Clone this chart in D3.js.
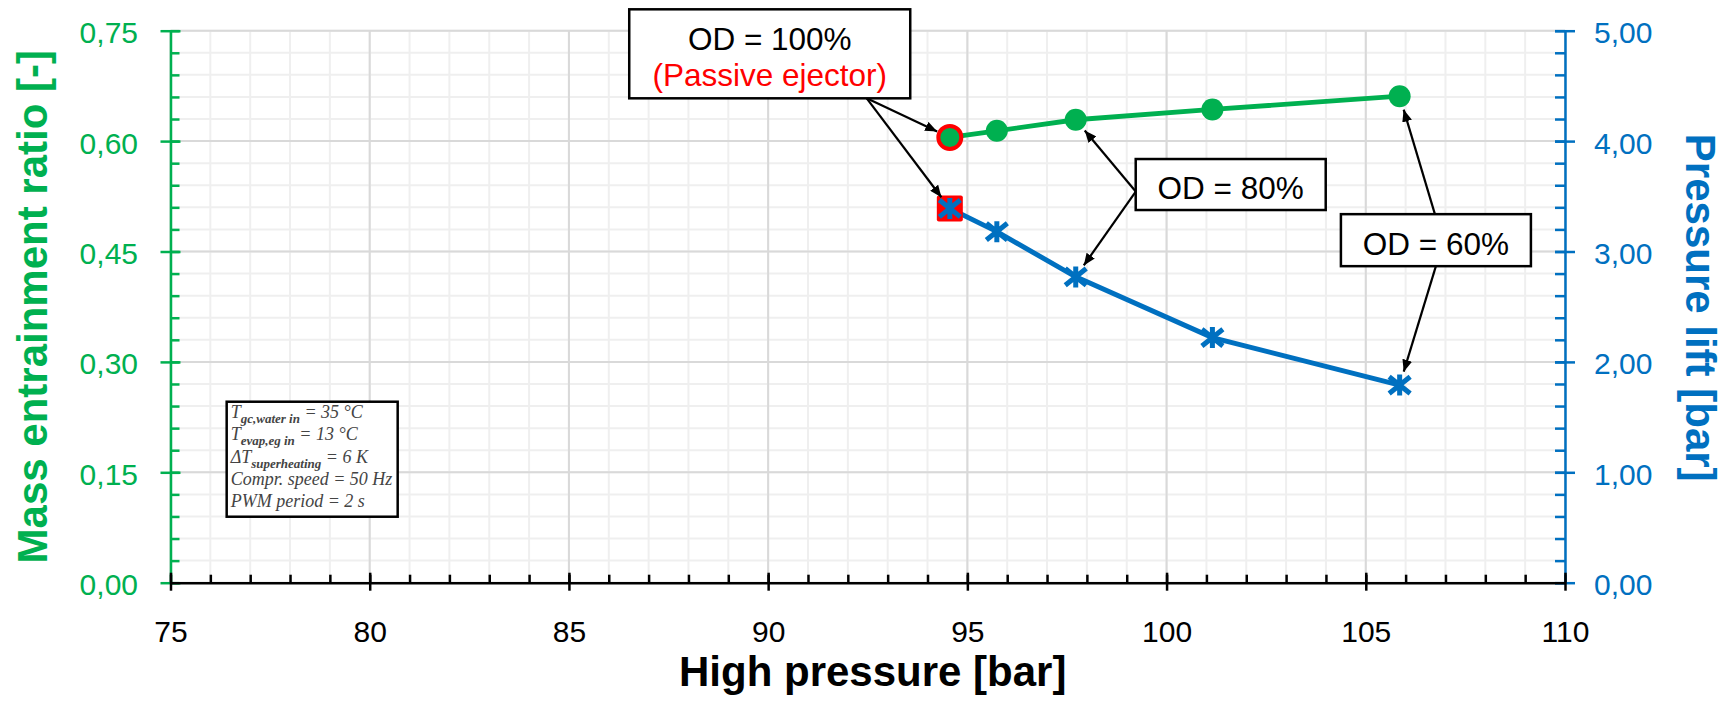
<!DOCTYPE html>
<html>
<head>
<meta charset="utf-8">
<script src="https://cdn.jsdelivr.net/npm/d3@7"></script>
<style>
  body { margin: 0; background: #fff; }
  svg { display: block; font-family: "Liberation Sans", Arial, sans-serif; }
</style>
</head>
<body>
<div id="chart"></div>
<script>
// values
var highPressure = [94.56, 95.74, 97.72, 101.15, 105.85];
var entrainmentRatio = [0.605, 0.614, 0.629, 0.643, 0.661];
var pressureLift = [3.39, 3.18, 2.77, 2.22, 1.79];

var xTicks = [75, 80, 85, 90, 95, 100, 105, 110];
var leftTicks = [0, 0.15, 0.30, 0.45, 0.60, 0.75];
var rightTicks = [0, 1, 2, 3, 4, 5];

// test conditions box: [main, subscript, rest]
var conditions = [
    ["T", "gc,water in", " = 35 °C"],
    ["T", "evap,eg in", " = 13 °C"],
    ["ΔT", "superheating", " = 6 K"],
    ["Compr. speed = 50 Hz", "", ""],
    ["PWM period = 2 s", "", ""]
];

var green = "#00B050", blue = "#0070C0", red = "#FF0000";

var W = 1725, H = 704;
var pLeft = 170.5, pRight = 1565, pTop = 30.7, pBottom = 582.7;

var x = d3.scaleLinear().domain([75, 110]).range([pLeft, pRight]);
var yL = d3.scaleLinear().domain([0, 0.75]).range([pBottom, pTop]);
var yR = d3.scaleLinear().domain([0, 5]).range([pBottom, pTop]);

var comma = d3.formatLocale({decimal: ",", thousands: ".", grouping: [3], currency: ["", "€"]});
var f2 = comma.format(".2f");

var svg = d3.select("#chart").append("svg")
    .attr("width", W)
    .attr("height", H);

var defs = svg.append("defs");
defs.append("marker")
    .attr("id", "head")
    .attr("markerUnits", "userSpaceOnUse")
    .attr("viewBox", "0 0 12 10")
    .attr("refX", 12).attr("refY", 5)
    .attr("markerWidth", 12).attr("markerHeight", 10)
    .attr("orient", "auto")
    .append("path")
    .attr("d", "M0,0 L12,5 L0,10 Z")
    .attr("fill", "#000");
defs.append("filter")
    .attr("id", "soft")
    .append("feGaussianBlur")
    .attr("stdDeviation", 0.7);

//gridlines, minor first
var minorX = d3.range(75, 111, 1);
var minorY = d3.range(0, 26).map(function(i) { return i * 0.03; });
var grid = svg.append("g");
grid.selectAll(".mx").data(minorX).enter().append("line")
    .attr("x1", function(d) { return x(d); }).attr("x2", function(d) { return x(d); })
    .attr("y1", pTop).attr("y2", pBottom)
    .attr("stroke", "#efefef").attr("stroke-width", 2);
grid.selectAll(".my").data(minorY).enter().append("line")
    .attr("y1", function(d) { return yL(d); }).attr("y2", function(d) { return yL(d); })
    .attr("x1", pLeft).attr("x2", pRight)
    .attr("stroke", "#efefef").attr("stroke-width", 2);
grid.selectAll(".Mx").data(xTicks).enter().append("line")
    .attr("x1", function(d) { return x(d); }).attr("x2", function(d) { return x(d); })
    .attr("y1", pTop).attr("y2", pBottom)
    .attr("stroke", "#d9d9d9").attr("stroke-width", 2);
grid.selectAll(".My").data(leftTicks).enter().append("line")
    .attr("y1", function(d) { return yL(d); }).attr("y2", function(d) { return yL(d); })
    .attr("x1", pLeft).attr("x2", pRight)
    .attr("stroke", "#d9d9d9").attr("stroke-width", 2);

//axes
function styleAxis(g, color) {
    g.select(".domain").attr("stroke", color).attr("stroke-width", 2.5);
    g.selectAll(".tick line").attr("stroke", color).attr("stroke-width", 2.5);
    g.selectAll(".tick text").attr("fill", color).attr("font-size", 30)
        .attr("font-family", "'Liberation Sans', Arial, sans-serif");
}

// minor ticks (inside)
var lm = svg.append("g").attr("transform", "translate(" + pLeft + ",0)")
    .call(d3.axisLeft(yL).tickValues(minorY).tickSize(-9).tickSizeOuter(0).tickFormat(""));
lm.select(".domain").remove();
lm.selectAll("line").attr("stroke", green).attr("stroke-width", 2.5);

var rm = svg.append("g").attr("transform", "translate(" + pRight + ",0)")
    .call(d3.axisRight(yR).tickValues(d3.range(0, 26).map(function(i) { return i * 0.2; }))
        .tickSize(-10).tickSizeOuter(0).tickFormat(""));
rm.select(".domain").remove();
rm.selectAll("line").attr("stroke", blue).attr("stroke-width", 2.5);

var bm = svg.append("g").attr("transform", "translate(0," + pBottom + ")")
    .call(d3.axisBottom(x).tickValues(minorX).tickSize(-8).tickSizeOuter(0).tickFormat(""));
bm.select(".domain").remove();
bm.selectAll("line").attr("stroke", "#000").attr("stroke-width", 2.5);

// major ticks (crossing) with labels
var la = svg.append("g").attr("transform", "translate(" + pLeft + ",0)")
    .call(d3.axisLeft(yL).tickValues(leftTicks).tickFormat(f2).tickSize(10).tickSizeOuter(0).tickPadding(22.5));
styleAxis(la, green);
la.selectAll(".tick line").attr("x1", 10);
la.selectAll(".tick text").attr("dy", "0.4em");

var ra = svg.append("g").attr("transform", "translate(" + pRight + ",0)")
    .call(d3.axisRight(yR).tickValues(rightTicks).tickFormat(f2).tickSize(10).tickSizeOuter(0).tickPadding(19));
styleAxis(ra, blue);
ra.selectAll(".tick line").attr("x1", -10);
ra.selectAll(".tick text").attr("dy", "0.4em");

var ba = svg.append("g").attr("transform", "translate(0," + pBottom + ")")
    .call(d3.axisBottom(x).tickValues(xTicks).tickFormat(d3.format("d")).tickSize(8).tickSizeOuter(0).tickPadding(30));
styleAxis(ba, "#000");
ba.selectAll(".tick line").attr("y1", -10);

//axis titles
svg.append("text")
    .attr("transform", "translate(46.7," + ((pTop + pBottom) / 2) + ") rotate(-90)")
    .attr("text-anchor", "middle")
    .attr("font-size", 42).attr("font-weight", "bold")
    .attr("fill", green)
    .text("Mass entrainment ratio [-]");

svg.append("text")
    .attr("transform", "translate(1686," + ((pTop + pBottom) / 2 + 1) + ") rotate(90)")
    .attr("text-anchor", "middle")
    .attr("font-size", 42).attr("font-weight", "bold")
    .attr("fill", blue)
    .text("Pressure lift [bar]");

svg.append("text")
    .attr("x", (pLeft + pRight) / 2 + 5)
    .attr("y", 686)
    .attr("text-anchor", "middle")
    .attr("font-size", 42).attr("font-weight", "bold")
    .attr("fill", "#000")
    .text("High pressure [bar]");

//series lines
var idx = d3.range(highPressure.length);
var ratioLine = d3.line().x(function(i) { return x(highPressure[i]); }).y(function(i) { return yL(entrainmentRatio[i]); });
var liftLine = d3.line().x(function(i) { return x(highPressure[i]); }).y(function(i) { return yR(pressureLift[i]); });

svg.append("path").datum(idx).attr("d", ratioLine)
    .attr("fill", "none").attr("stroke", green).attr("stroke-width", 4.8);
svg.append("path").datum(idx).attr("d", liftLine)
    .attr("fill", "none").attr("stroke", blue).attr("stroke-width", 5);

// passive ejector highlight (first point)
svg.append("rect")
    .attr("x", x(highPressure[0]) - 13).attr("y", yR(pressureLift[0]) - 13)
    .attr("width", 26).attr("height", 26).attr("rx", 2)
    .attr("fill", red);

//markers
svg.selectAll(".dot").data(idx).enter().append("circle")
    .attr("cx", function(i) { return x(highPressure[i]); })
    .attr("cy", function(i) { return yL(entrainmentRatio[i]); })
    .attr("r", function(i) { return i === 0 ? 11.5 : 11; })
    .attr("fill", green)
    .attr("stroke", function(i) { return i === 0 ? red : "none"; })
    .attr("stroke-width", 4);

var s = 10.5;
svg.selectAll(".star").data(idx).enter().append("path")
    .attr("transform", function(i) { return "translate(" + x(highPressure[i]) + "," + yR(pressureLift[i]) + ")"; })
    .attr("d", "M" + (-s) + "," + (-s * 0.8) + "L" + s + "," + (s * 0.8) +
               "M" + (-s) + "," + (s * 0.8) + "L" + s + "," + (-s * 0.8) +
               "M0," + (-s) + "L0," + s)
    .attr("stroke", blue).attr("stroke-width", 5).attr("fill", "none")
    .attr("filter", "url(#soft)");

//conditions box
var cb = svg.append("g");
cb.append("rect")
    .attr("x", x(76.41)).attr("y", yL(0.2459))
    .attr("width", 171).attr("height", 115)
    .attr("fill", "#fff").attr("stroke", "#000").attr("stroke-width", 2.5);
conditions.forEach(function(c, k) {
    var t = cb.append("text")
        .attr("x", x(76.41) + 4)
        .attr("y", yL(0.2459) + 16 + k * 22.4)
        .attr("font-family", "'Liberation Serif', 'DejaVu Serif', serif")
        .attr("font-style", "italic")
        .attr("font-size", 18)
        .attr("fill", "#444");
    t.append("tspan").text(c[0]);
    if (c[1]) {
        t.append("tspan").attr("dy", 5).attr("font-size", 13).attr("font-weight", "bold").text(c[1]);
        t.append("tspan").attr("dy", -5).text(c[2]);
    }
});

//annotation boxes with arrows
var notes = [
    {lines: ["OD = 100%", "(Passive ejector)"], colors: ["#000", red], px: 90.04, py: 0.7186, w: 281, h: 89,
     starts: [[97, 44.5], [97, 44.5]], point: 0},
    {lines: ["OD = 80%"], colors: ["#000"], px: 101.61, py: 0.541, w: 190, h: 51,
     starts: [[-95, 7], [-95, 7]], point: 2},
    {lines: ["OD = 60%"], colors: ["#000"], px: 106.76, py: 0.4654, w: 190, h: 52,
     starts: [[-1, -26], [0, 26]], point: 4}
];

notes.forEach(function(n) {
    var cx = x(n.px), cy = yL(n.py);
    var g = svg.append("g");
    var targets = [[x(highPressure[n.point]), yL(entrainmentRatio[n.point])],
                   [x(highPressure[n.point]), yR(pressureLift[n.point])]];
    targets.forEach(function(t, k) {
        var sx = cx + n.starts[k][0], sy = cy + n.starts[k][1];
        var dx = t[0] - sx, dy = t[1] - sy, len = Math.sqrt(dx * dx + dy * dy);
        var gap = 14;
        g.append("line")
            .attr("x1", sx).attr("y1", sy)
            .attr("x2", t[0] - dx / len * gap).attr("y2", t[1] - dy / len * gap)
            .attr("stroke", "#000").attr("stroke-width", 2.2)
            .attr("marker-end", "url(#head)");
    });
    g.append("rect")
        .attr("x", cx - n.w / 2).attr("y", cy - n.h / 2)
        .attr("width", n.w).attr("height", n.h)
        .attr("fill", "#fff").attr("stroke", "#000").attr("stroke-width", 2.5);
    n.lines.forEach(function(l, k) {
        g.append("text")
            .attr("x", cx)
            .attr("y", n.lines.length === 2 ? cy - 3.5 + k * 36 : cy + 14.5)
            .attr("text-anchor", "middle")
            .attr("font-size", 31.5)
            .attr("fill", n.colors[k])
            .text(l);
    });
});
</script>
</body>
</html>
